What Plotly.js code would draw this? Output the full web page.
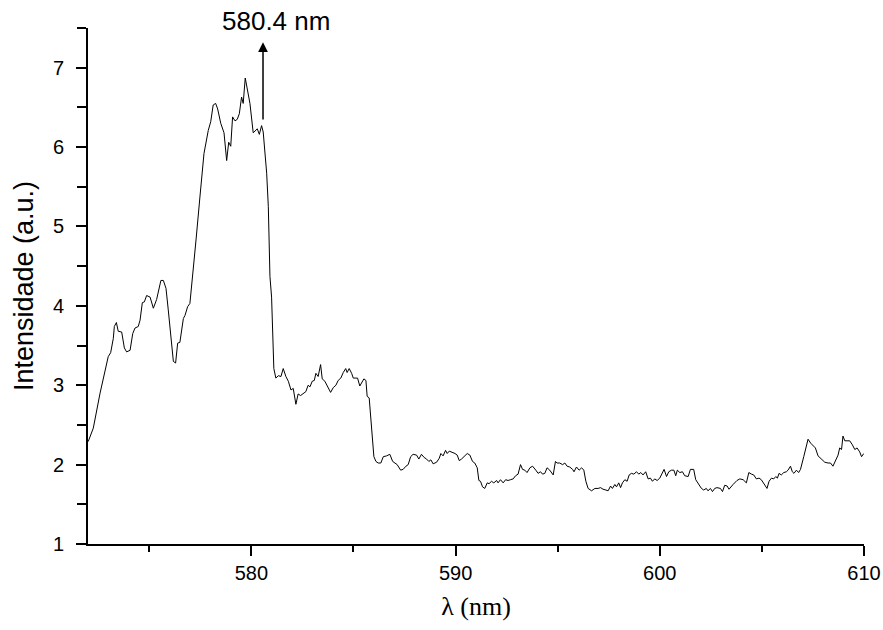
<!DOCTYPE html>
<html>
<head>
<meta charset="utf-8">
<script src="https://cdn.plot.ly/plotly-3.0.1.min.js"></script>
<style>html,body{margin:0;padding:0;background:#fff;}#chart{width:883px;height:630px;}</style>
</head>
<body>
<div id="chart"></div>
<script>
// Wavelength (nm)
const wavelength = [
572.01,572.26,572.59,572.80,572.99,573.11,573.24,573.29,573.39,573.48,573.65,573.78,573.89,574.06,574.19,574.30,574.46,574.55,574.66,574.76,
574.87,575.04,575.20,575.36,575.57,575.69,575.82,575.93,576.06,576.18,576.29,576.39,576.50,576.67,576.75,576.88,576.99,577.11,577.24,577.29,
577.48,577.68,577.89,578.01,578.13,578.25,578.35,578.50,578.66,578.79,578.89,578.99,579.08,579.20,579.31,579.41,579.52,579.60,579.70,579.77,
579.93,580.09,580.21,580.29,580.39,580.50,580.58,580.75,580.83,580.91,580.99,581.04,581.10,581.20,581.32,581.45,581.56,581.69,581.81,581.94,
582.05,582.18,582.29,582.41,582.54,582.67,582.78,582.87,582.98,583.08,583.16,583.27,583.39,583.47,583.60,583.76,583.88,584.01,584.14,584.25,
584.38,584.50,584.62,584.69,584.79,584.91,584.99,585.12,585.20,585.31,585.40,585.51,585.61,585.67,585.77,585.89,586.00,586.10,586.21,586.34,
586.46,586.62,586.78,586.92,587.03,587.14,587.31,587.43,587.57,587.68,587.80,587.92,588.09,588.20,588.33,588.46,588.58,588.69,588.79,588.90,
589.07,589.20,589.28,589.39,589.51,589.59,589.69,589.80,589.97,590.08,590.18,590.29,590.45,590.57,590.70,590.83,590.94,591.06,591.14,591.22,
591.32,591.43,591.55,591.64,591.76,591.87,592.01,592.08,592.20,592.33,592.45,592.57,592.69,592.82,592.94,593.06,593.18,593.28,593.39,593.50,
593.64,593.77,593.93,594.04,594.16,594.26,594.37,594.48,594.61,594.78,594.89,594.97,595.10,595.24,595.35,595.46,595.59,595.73,595.80,595.92,
596.05,596.17,596.28,596.38,596.49,596.66,596.82,596.98,597.10,597.22,597.36,597.47,597.59,597.68,597.80,597.88,597.99,598.08,598.17,598.29,
598.40,598.50,598.61,598.73,598.86,598.97,599.07,599.18,599.31,599.43,599.54,599.64,599.75,599.87,600.00,600.13,600.21,600.33,600.44,600.57,
600.69,600.78,600.86,600.98,601.11,601.22,601.39,601.50,601.66,601.76,601.87,602.04,602.15,602.28,602.36,602.48,602.58,602.69,602.80,602.97,
603.07,603.18,603.30,603.39,603.59,603.78,603.92,604.08,604.24,604.36,604.49,604.60,604.73,604.86,604.97,605.14,605.25,605.35,605.47,605.58,
605.68,605.76,605.84,605.95,606.07,606.20,606.28,606.40,606.49,606.57,606.69,606.80,606.89,607.05,607.18,607.26,607.39,607.51,607.62,607.75,
607.92,608.08,608.24,608.36,608.48,608.62,608.73,608.81,608.90,608.97,609.06,609.17,609.30,609.43,609.55,609.66,609.79,609.88,609.99
];
// Intensity (a.u.)
const intensity = [
2.29,2.46,2.90,3.15,3.36,3.41,3.59,3.74,3.79,3.68,3.67,3.47,3.42,3.44,3.65,3.72,3.74,3.82,4.04,4.05,
4.13,4.11,3.97,4.08,4.32,4.32,4.22,3.95,3.65,3.30,3.28,3.53,3.54,3.84,3.88,3.99,4.03,4.32,4.70,4.83,
5.37,5.92,6.21,6.32,6.53,6.55,6.48,6.30,6.18,5.83,6.06,6.01,6.38,6.33,6.35,6.42,6.63,6.55,6.87,6.76,
6.55,6.18,6.21,6.23,6.16,6.27,6.19,5.67,5.25,4.37,4.11,3.70,3.21,3.09,3.12,3.11,3.21,3.11,3.05,2.94,
2.96,2.76,2.89,2.87,2.89,2.92,3.00,2.98,3.05,3.06,3.15,3.11,3.26,3.08,3.05,2.96,2.91,2.97,3.00,3.06,
3.09,3.16,3.21,3.16,3.21,3.15,3.09,3.09,3.09,2.99,3.03,3.08,3.06,2.86,2.84,2.48,2.10,2.04,2.02,2.02,
2.10,2.11,2.13,2.04,2.02,2.00,1.93,1.94,1.98,2.00,2.10,2.13,2.12,2.07,2.13,2.09,2.07,2.04,2.06,2.01,
2.03,2.08,2.14,2.11,2.18,2.14,2.17,2.16,2.14,2.12,2.05,2.07,2.11,2.14,2.12,2.04,2.02,1.96,1.80,1.79,
1.72,1.70,1.77,1.76,1.79,1.77,1.80,1.77,1.81,1.77,1.81,1.80,1.81,1.82,1.86,1.88,2.00,1.94,1.93,1.90,
1.96,1.98,1.93,1.89,1.91,1.88,1.89,1.96,1.93,1.87,2.04,2.02,2.02,2.00,2.02,1.98,1.97,1.94,1.91,1.97,
1.93,1.96,1.93,1.79,1.70,1.67,1.70,1.70,1.71,1.69,1.68,1.67,1.73,1.70,1.75,1.72,1.77,1.71,1.77,1.81,
1.79,1.87,1.89,1.88,1.91,1.88,1.90,1.87,1.91,1.82,1.83,1.79,1.82,1.80,1.83,1.89,1.94,1.85,1.91,1.93,
1.93,1.86,1.93,1.90,1.91,1.86,1.85,1.94,1.94,1.81,1.77,1.70,1.68,1.70,1.67,1.70,1.66,1.70,1.71,1.70,
1.66,1.74,1.73,1.69,1.75,1.80,1.82,1.81,1.77,1.90,1.88,1.87,1.82,1.83,1.81,1.75,1.70,1.79,1.83,1.82,
1.85,1.83,1.89,1.87,1.90,1.91,1.93,1.98,1.91,1.89,1.93,1.90,1.94,2.10,2.23,2.32,2.27,2.24,2.21,2.11,
2.07,2.03,2.02,2.02,1.98,2.07,2.12,2.21,2.19,2.36,2.30,2.30,2.30,2.25,2.19,2.21,2.16,2.10,2.14
];
const xTickVals = [580, 590, 600, 610];
const yTickVals = [1, 2, 3, 4, 5, 6, 7];
const peakLabel = "580.4 nm";
const peakArrowX = 580.57;
const peakArrowFrom = 6.33;
const peakArrowTo = 7.32;

const trace = {
  x: wavelength, y: intensity, type: 'scatter', mode: 'lines',
  line: {color: '#000', width: 1}, hoverinfo: 'skip'
};

const axisFont = {family: 'Arial, "Liberation Sans", sans-serif', size: 20, color: '#000'};

const layout = {
  width: 883, height: 630,
  margin: {l: 88, r: 19, t: 28, b: 86},
  paper_bgcolor: '#fff', plot_bgcolor: '#fff',
  showlegend: false,
  xaxis: {
    range: [572, 610], tickvals: xTickVals, ticktext: xTickVals.map(String),
    showgrid: false, zeroline: false, showline: true, linecolor: '#000', linewidth: 2,
    ticks: 'outside', ticklen: 10, tickwidth: 2, tickcolor: '#000',
    tickfont: axisFont,
    minor: {dtick: 5, tick0: 0, ticks: 'outside', ticklen: 6, tickwidth: 2, tickcolor: '#000', showgrid: false},
    title: {text: 'λ (nm)', font: {family: '"Liberation Serif", "Times New Roman", serif', size: 26, color: '#000'}, standoff: 14}
  },
  yaxis: {
    range: [1, 7.5], tickvals: yTickVals, ticktext: yTickVals.map(String),
    showgrid: false, zeroline: false, showline: true, linecolor: '#000', linewidth: 2,
    ticks: 'outside', ticklen: 10, tickwidth: 2, tickcolor: '#000',
    ticklabelstandoff: 8,
    tickfont: axisFont,
    minor: {dtick: 0.5, tick0: 0, ticks: 'outside', ticklen: 9, tickwidth: 2, tickcolor: '#000', showgrid: false},
    title: {text: 'Intensidade (a.u.)', font: {family: 'Arial, "Liberation Sans", sans-serif', size: 27, color: '#000'}, standoff: 11}
  },
  annotations: [
    {
      x: peakArrowX, y: peakArrowTo, xref: 'x', yref: 'y',
      ax: peakArrowX, ay: peakArrowFrom, axref: 'x', ayref: 'y',
      showarrow: true, arrowhead: 2, arrowsize: 1.3, arrowwidth: 1.5, arrowcolor: '#000', text: ''
    },
    {
      x: 581.2, y: 1.0135, xref: 'x', yref: 'paper', xanchor: 'center', yanchor: 'middle',
      showarrow: false, text: peakLabel,
      font: {family: 'Arial, "Liberation Sans", sans-serif', size: 26, color: '#000'}
    }
  ]
};

Plotly.newPlot('chart', [trace], layout, {displayModeBar: false, staticPlot: true});
</script>
</body>
</html>
